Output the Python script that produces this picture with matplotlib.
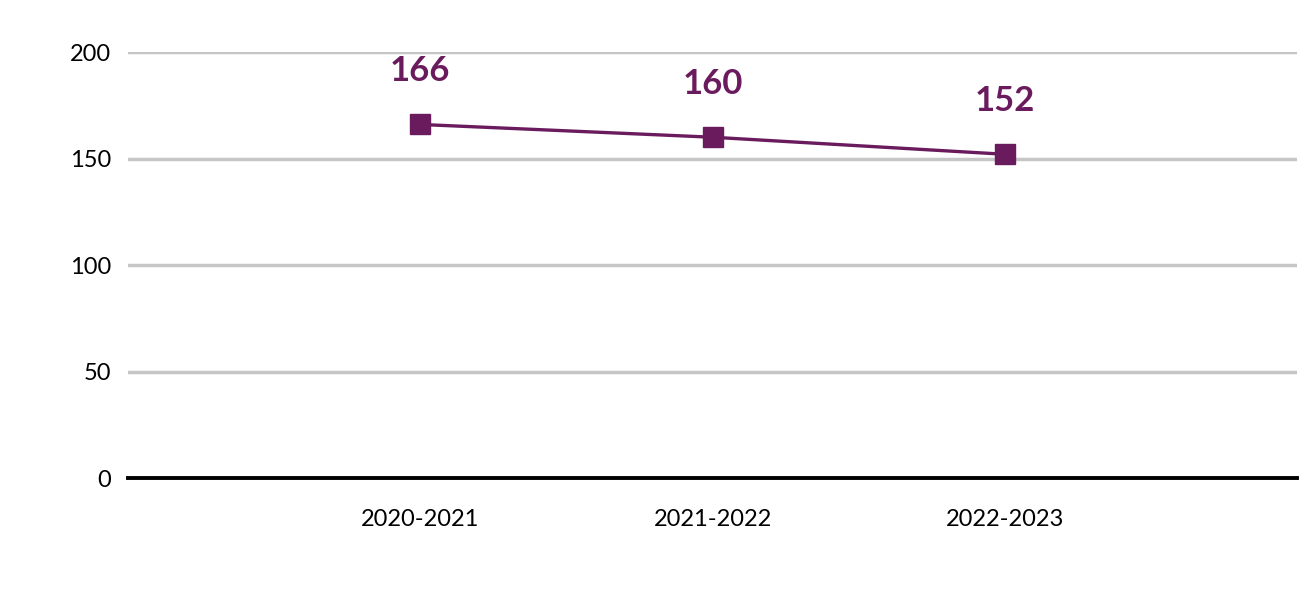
import matplotlib
matplotlib.use("Agg")
import matplotlib.pyplot as plt

# data
years = ["2020-2021", "2021-2022", "2022-2023"]
values = [166, 160, 152]
y_ticks = [0, 50, 100, 150, 200]

PURPLE = "#6a1b5e"
GRID = "#c6c6c6"

plt.rcParams["font.family"] = ["Lato", "DejaVu Sans"]

fig = plt.figure(figsize=(12.99, 5.91), dpi=100)
ax = fig.add_axes([0.0985, 0.191, 0.9, 0.721])

x = list(range(len(years)))
ax.plot(x, values, color=PURPLE, linewidth=2.4, marker="s", markersize=14, zorder=3)
for xi, v in zip(x, values):
    ax.annotate(str(v), (xi, v), xytext=(0, 27), textcoords="offset points",
                ha="center", va="bottom", fontsize=25, fontweight="bold", color=PURPLE)

ax.set_xlim(-1, 3)
ax.set_ylim(0, 200)
ax.set_xticks(x)
ax.set_xticklabels(years, fontsize=17)
ax.set_yticks(y_ticks)
ax.set_yticklabels([str(t) for t in y_ticks], fontsize=17)
ax.grid(True, axis="y", color=GRID, linewidth=2.5)
ax.set_axisbelow(True)
for s in ("top", "right", "left"):
    ax.spines[s].set_visible(False)
ax.spines["bottom"].set_color("black")
ax.spines["bottom"].set_linewidth(2.8)
ax.tick_params(length=0, pad=12)
ax.tick_params(axis="x", pad=22)

fig.savefig("out.png", dpi=100)
